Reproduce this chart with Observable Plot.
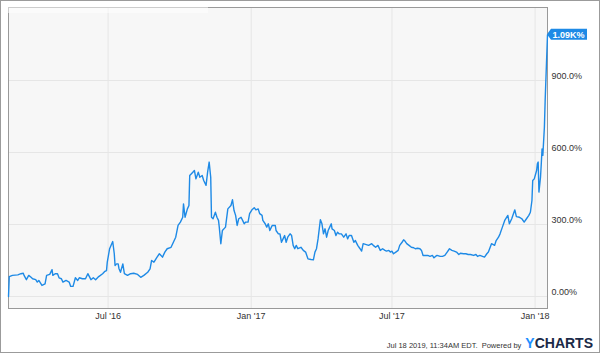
<!DOCTYPE html>
<html><head><meta charset="utf-8">
<script src="https://cdn.jsdelivr.net/npm/d3@7"></script>
<script src="https://cdn.jsdelivr.net/npm/@observablehq/plot@0.6"></script>
<style>
html,body{margin:0;padding:0;background:#fff;}
#wrap{position:relative;width:600px;height:353px;overflow:hidden;font-family:"Liberation Sans",Arial,Helvetica,sans-serif;}
#chart svg{display:block;}
#border{position:absolute;left:0;top:0;width:600px;height:353px;box-sizing:border-box;border:1px solid #9b9b9b;pointer-events:none;}
#legendstrip{position:absolute;left:8px;top:7px;width:200px;height:6px;background:rgba(255,255,255,0.5);pointer-events:none;}
#footer{position:absolute;right:7px;bottom:3px;display:flex;align-items:baseline;white-space:nowrap;line-height:1;}
#stamp{font-size:7.5px;color:#333;}
#logo{font-size:14px;font-weight:bold;margin-left:4px;color:#1b2a47;}
#logo span{color:#1e8fff;}
</style></head><body>
<div id="wrap"><div id="chart"></div><div id="legendstrip"></div>
<div id="footer"><span id="stamp">Jul 18 2019, 11:34AM EDT.&nbsp; Powered by</span><span id="logo"><span>Y</span>CHARTS</span></div>
<div id="border"></div></div>
<script>
const dates = [
"2016-02-24","2016-02-25","2016-02-29","2016-03-07","2016-03-11","2016-03-14","2016-03-15","2016-03-18","2016-03-21","2016-03-24","2016-03-26","2016-03-30",
"2016-04-01","2016-04-03","2016-04-07","2016-04-11","2016-04-13","2016-04-17","2016-04-20","2016-04-21","2016-04-24","2016-04-27","2016-04-29",
"2016-05-02","2016-05-04","2016-05-08","2016-05-12","2016-05-14","2016-05-17","2016-05-20","2016-05-23","2016-05-25","2016-05-29",
"2016-06-02","2016-06-05","2016-06-09","2016-06-12","2016-06-15","2016-06-19","2016-06-24","2016-06-27","2016-06-29","2016-06-30",
"2016-07-03","2016-07-07","2016-07-09","2016-07-10","2016-07-12","2016-07-14","2016-07-15","2016-07-17","2016-07-20","2016-07-22","2016-07-26","2016-07-30",
"2016-08-03","2016-08-08","2016-08-12","2016-08-16","2016-08-21","2016-08-24","2016-08-26","2016-08-29",
"2016-09-02","2016-09-05","2016-09-09","2016-09-12","2016-09-15","2016-09-20","2016-09-23","2016-09-26","2016-09-29",
"2016-10-02","2016-10-05","2016-10-06","2016-10-08","2016-10-11","2016-10-13","2016-10-14","2016-10-18","2016-10-20","2016-10-22","2016-10-25","2016-10-27","2016-10-30",
"2016-11-01","2016-11-04","2016-11-06","2016-11-08","2016-11-10","2016-11-11","2016-11-13","2016-11-16","2016-11-18","2016-11-20","2016-11-21","2016-11-23","2016-11-25","2016-11-29",
"2016-12-02","2016-12-06","2016-12-08","2016-12-10","2016-12-12","2016-12-14","2016-12-16","2016-12-19","2016-12-21","2016-12-23","2016-12-25","2016-12-28","2016-12-30",
"2017-01-02","2017-01-05","2017-01-07","2017-01-10","2017-01-12","2017-01-15","2017-01-16","2017-01-19","2017-01-21","2017-01-23","2017-01-25","2017-01-27","2017-01-28",
"2017-02-01","2017-02-02","2017-02-05","2017-02-07","2017-02-09","2017-02-11","2017-02-13","2017-02-15","2017-02-17","2017-02-20","2017-02-22","2017-02-24","2017-02-26","2017-02-28",
"2017-03-02","2017-03-06","2017-03-09","2017-03-12","2017-03-15","2017-03-19","2017-03-22","2017-03-24","2017-03-26","2017-03-28","2017-03-31",
"2017-04-02","2017-04-04","2017-04-06","2017-04-08","2017-04-10","2017-04-12","2017-04-14","2017-04-15","2017-04-18","2017-04-20","2017-04-22","2017-04-24","2017-04-27","2017-04-30",
"2017-05-03","2017-05-05","2017-05-07","2017-05-10","2017-05-13","2017-05-15","2017-05-18","2017-05-21","2017-05-23","2017-05-25","2017-05-28",
"2017-06-01","2017-06-05","2017-06-07","2017-06-10","2017-06-13","2017-06-16","2017-06-19","2017-06-22","2017-06-24","2017-06-27","2017-06-29",
"2017-07-01","2017-07-03","2017-07-06","2017-07-09","2017-07-11","2017-07-14","2017-07-16","2017-07-18","2017-07-20","2017-07-23","2017-07-26","2017-07-29","2017-07-31",
"2017-08-03","2017-08-06","2017-08-08","2017-08-10","2017-08-13","2017-08-16","2017-08-19","2017-08-22","2017-08-24","2017-08-26","2017-08-28",
"2017-09-01","2017-09-04","2017-09-07","2017-09-10","2017-09-13","2017-09-16","2017-09-19","2017-09-22","2017-09-25","2017-09-27",
"2017-10-01","2017-10-04","2017-10-07","2017-10-10","2017-10-14","2017-10-17","2017-10-19","2017-10-22","2017-10-28","2017-10-31",
"2017-11-02","2017-11-06","2017-11-10","2017-11-12","2017-11-15","2017-11-17","2017-11-20","2017-11-23","2017-11-27","2017-11-29",
"2017-12-02","2017-12-06","2017-12-08","2017-12-12","2017-12-15","2017-12-18","2017-12-21","2017-12-24","2017-12-26","2017-12-28","2017-12-29","2017-12-31",
"2018-01-03","2018-01-04","2018-01-05","2018-01-06","2018-01-08","2018-01-09","2018-01-10","2018-01-11","2018-01-13","2018-01-14","2018-01-17"
];
const returnsPct = [
0,83,88,90,95,97,88,70,88,80,74,70,
60,67,46,53,88,92,112,88,95,95,78,
74,60,67,60,42,42,78,67,78,74,
74,95,70,78,70,83,95,105,108,143,
199,229,178,129,136,136,117,101,136,95,88,95,
97,92,80,88,101,115,150,143,
164,178,164,185,199,205,226,247,296,
310,330,386,330,365,379,504,518,525,490,518,497,504,
483,463,518,560,497,330,324,351,330,317,289,220,275,289,
365,379,403,358,338,296,324,330,317,303,310,310,345,
361,370,361,365,345,338,317,303,289,303,275,289,296,
296,275,261,261,226,240,254,226,247,261,254,213,199,213,
199,205,192,185,157,154,153,185,199,240,320,
303,261,282,247,275,289,303,282,275,254,268,261,261,247,
261,240,254,254,226,233,213,199,189,220,217,
213,220,213,205,213,192,199,192,189,192,185,
189,178,185,192,213,226,236,230,220,213,205,203,199,
201,199,192,171,171,171,167,171,161,167,171,
167,167,171,185,199,192,189,185,175,180,
178,178,175,175,171,175,167,171,164,178,
185,220,213,233,247,261,289,317,338,303,
324,361,333,330,324,310,324,338,351,400,483,490,
525,553,560,435,497,553,615,588,705,817,1090
];
const xTicks = ["2016-07-01","2017-01-01","2017-07-01","2018-01-01"];
const xTickLabels = ["Jul '16","Jan '17","Jul '17","Jan '18"];
const yTicks = [0,300,600,900];
const yTickLabels = ["0.00%","300.0%","600.0%","900.0%"];
const lastLabel = "1.09K%";
const xDomain = ["2016-02-24","2018-01-17"];
const yDomain = [-50,1204];

const parse = d3.utcParse("%Y-%m-%d");
const data = dates.map((d,i)=>({date: parse(d), value: returnsPct[i]}));
const last = data[data.length-1];
const blue = "#1e8ae6";

const tag = (index, scales, values, dimensions) => {
  const g = d3.create("svg:g");
  const x0 = dimensions.width - dimensions.marginRight;
  const y = scales.y(last.value);
  const h = 5.5, w = 40;
  g.append("path")
    .attr("d", `M${x0},${y}L${x0+4},${y-h}L${x0+w},${y-h}L${x0+w},${y+h}L${x0+4},${y+h}Z`)
    .attr("fill", blue);
  g.append("text").attr("x", x0+5.5).attr("y", y).attr("dy","0.35em")
    .attr("text-anchor","start")
    .attr("fill","#fff").attr("font-weight","bold").attr("font-size","9px").text(lastLabel);
  return g.node();
};

const chart = Plot.plot({
  width: 600, height: 353,
  marginLeft: 8, marginRight: 53, marginTop: 7, marginBottom: 45,
  style: {fontFamily: '"Liberation Sans",Arial,Helvetica,sans-serif', fontSize: "9px", color: "#333", background: "transparent", overflow: "visible"},
  x: {type: "utc", domain: xDomain.map(parse), axis: null},
  y: {domain: yDomain, axis: null},
  marks: [
    Plot.frame({fill: "#f7f7f7", stroke: "none"}),
    Plot.ruleX(xTicks.map(parse), {stroke: "#e6e6e6"}),
    Plot.ruleY(yTicks, {stroke: "#e6e6e6"}),
    Plot.frame({stroke: "#999"}),
    Plot.line(data, {x: "date", y: "value", stroke: blue, strokeWidth: 1.4, strokeLinejoin: "round"}),
    Plot.text(xTicks, {x: d => parse(d), text: (d,i) => xTickLabels[i], frameAnchor: "bottom", dy: 10, fill: "#333"}),
    Plot.text(yTicks, {y: d => d, text: (d,i) => yTickLabels[i], frameAnchor: "right", textAnchor: "start", dx: 4, dy: -4, fill: "#333"}),
    tag
  ]
});
document.getElementById("chart").appendChild(chart);
</script>
</body></html>
